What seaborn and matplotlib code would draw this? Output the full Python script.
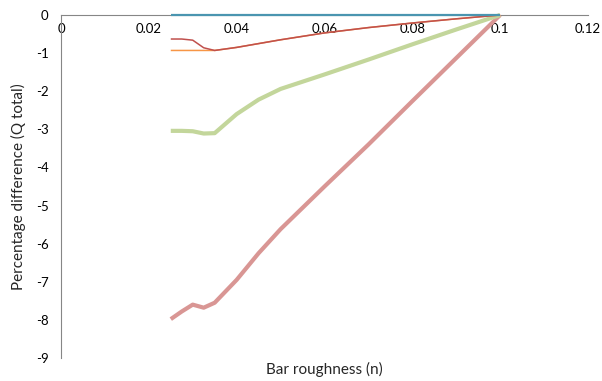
import matplotlib
matplotlib.use("Agg")
import matplotlib.pyplot as plt
import seaborn as sns

# bar roughness values (n)
roughness = [0.025, 0.0275, 0.03, 0.0325, 0.035, 0.04, 0.045, 0.05,
             0.06, 0.07, 0.08, 0.09, 0.1]

# percentage difference in total discharge, one list per series
diff_flat = [0, 0, 0, 0, 0, 0, 0, 0, 0, 0, 0, 0, 0]
diff_red = [-0.63, -0.63, -0.66, -0.86, -0.93, -0.85, -0.75, -0.65,
            -0.47, -0.33, -0.21, -0.10, 0]
diff_orange = [-0.93, -0.93, -0.93, -0.93, -0.93, -0.85, -0.75, -0.65,
               -0.47, -0.33, -0.21, -0.10, 0]
diff_green = [-3.04, -3.04, -3.05, -3.11, -3.10, -2.60, -2.22, -1.94,
              -1.56, -1.17, -0.77, -0.38, 0]
diff_pink = [-7.98, -7.78, -7.60, -7.68, -7.55, -6.95, -6.25, -5.62,
             -4.50, -3.40, -2.26, -1.13, 0]

x_ticks = [0, 0.02, 0.04, 0.06, 0.08, 0.1, 0.12]
x_tick_labels = ["0", "0.02", "0.04", "0.06", "0.08", "0.1", "0.12"]
y_ticks = [0, -1, -2, -3, -4, -5, -6, -7, -8, -9]

sns.set_style("white")
plt.rcParams["font.family"] = ["Lato", "DejaVu Sans"]
plt.rcParams["axes.unicode_minus"] = False

fig = plt.figure(figsize=(6.02, 3.81), dpi=100)
ax = fig.add_axes([0.1013, 0.0604, 0.8754, 0.9002])

series = [
    (diff_pink, "#D99694", 3.0),
    (diff_green, "#C3D69B", 3.0),
    (diff_orange, "#F79646", 1.1),
    (diff_red, "#C0504D", 1.1),
    (diff_flat, "#4A95B0", 1.6),
]
for values, color, lw in series:
    sns.lineplot(x=roughness, y=values, ax=ax, color=color, linewidth=lw,
                 clip_on=False, solid_capstyle="butt", solid_joinstyle="round")

ax.set_xlim(0, 0.12)
ax.set_ylim(-9, 0)
ax.set_xticks(x_ticks)
ax.set_xticklabels(x_tick_labels)
ax.set_yticks(y_ticks)

axis_color = "#868686"
ax.spines["bottom"].set_position(("data", 0))
ax.spines["bottom"].set_zorder(0)
ax.spines["bottom"].set_color(axis_color)
ax.spines["left"].set_color(axis_color)
ax.spines["top"].set_visible(False)
ax.spines["right"].set_visible(False)
ax.tick_params(axis="both", direction="out", length=4, width=0.8,
               color=axis_color, labelsize=9.5, labelcolor="black")
ax.tick_params(axis="x", pad=2)
ax.tick_params(axis="y", pad=5)

ax.set_xlabel("Bar roughness (n)", fontsize=11)
ax.xaxis.set_label_coords(0.5, -0.012)
ax.set_ylabel("Percentage difference (Q total)", fontsize=11)
ax.yaxis.set_label_coords(-0.066, 0.5)

fig.savefig("out.png", dpi=100)
